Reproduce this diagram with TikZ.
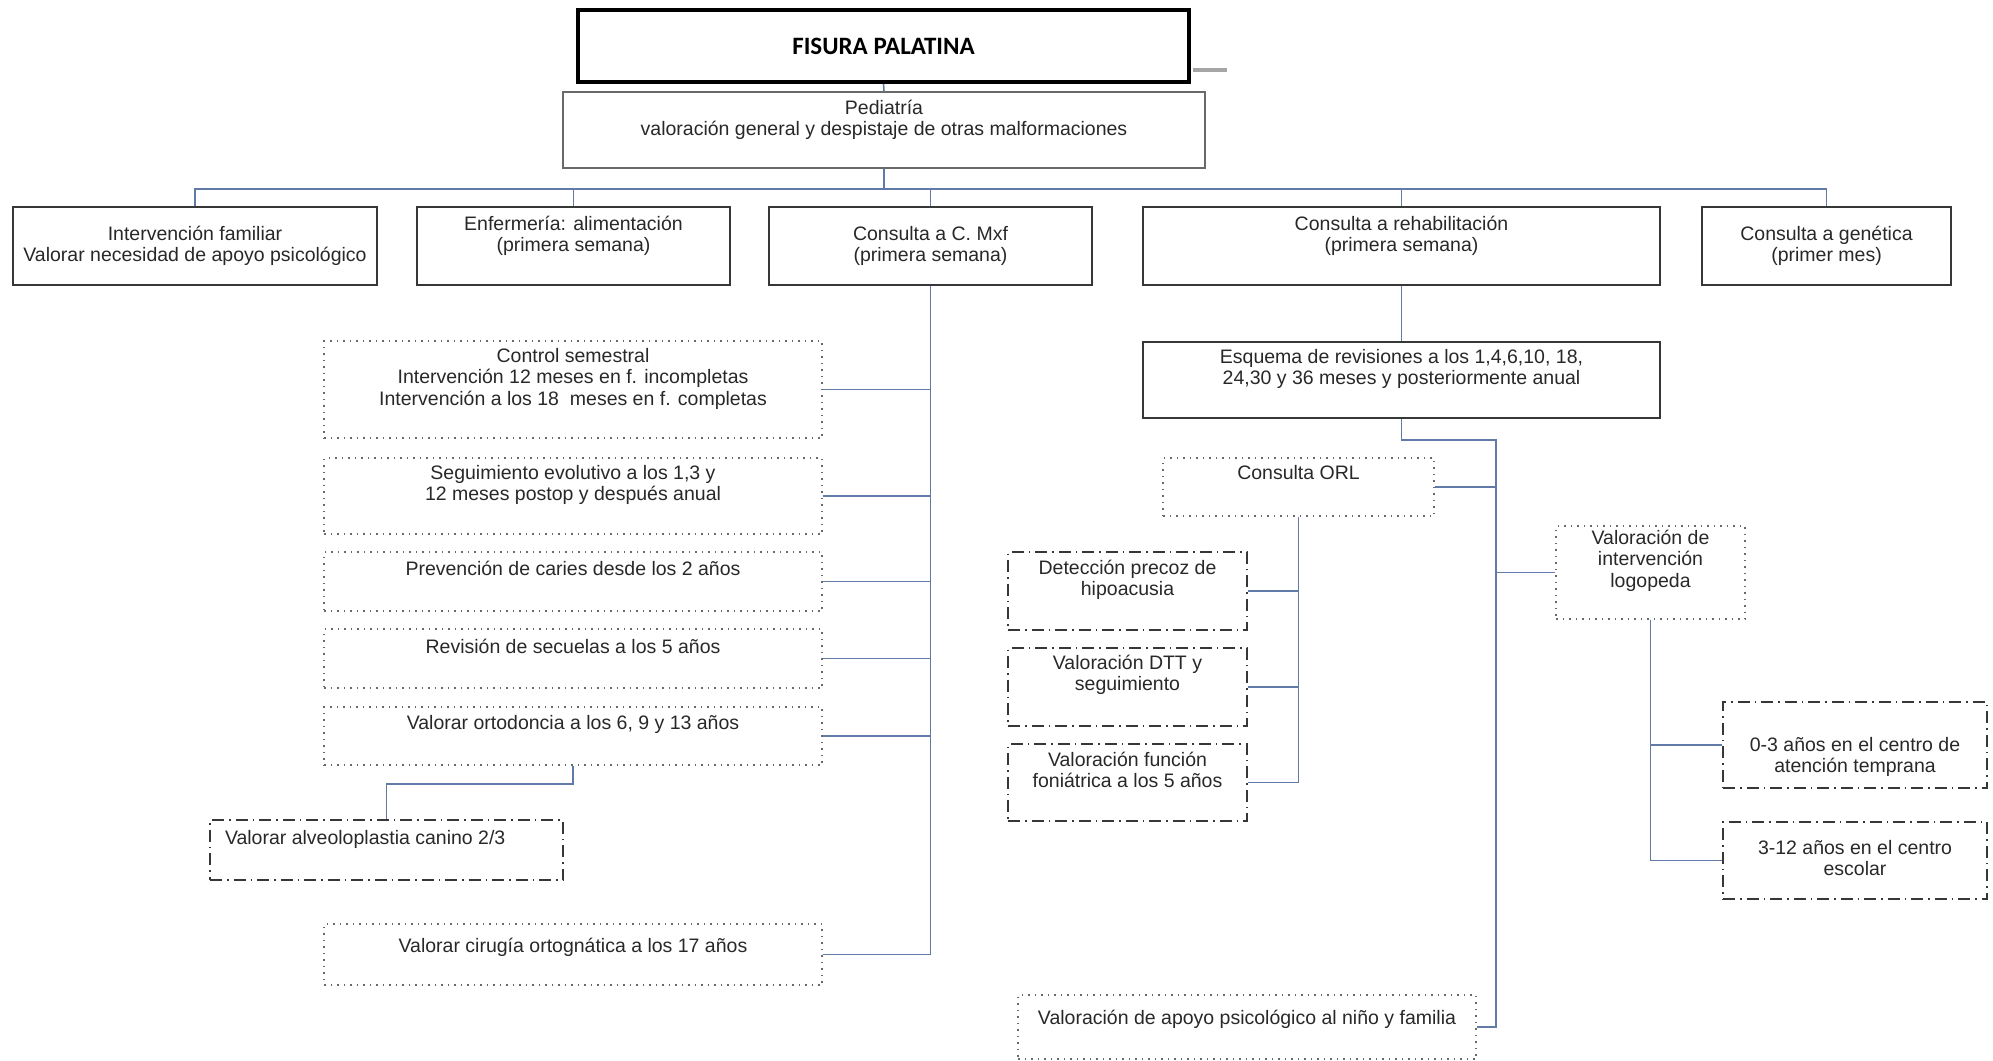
\documentclass[tikz,border=0pt]{standalone}
\usepackage{fontspec}
\setmainfont{Liberation Sans}
\newfontfamily\titlefont{Carlito}

\definecolor{borde}{RGB}{55,55,55}
\definecolor{punto}{RGB}{105,105,105}
\definecolor{linea}{RGB}{98,122,168}
\definecolor{texto}{RGB}{40,40,40}
\definecolor{gris}{RGB}{165,165,165}

\newcommand{\cajatxt}[4]{\parbox[c][#2pt][t]{#1pt}{\centering\vspace*{#3pt}\strut#4}}
\newcommand{\cajaizq}[4]{\parbox[c][#2pt][t]{#1pt}{\raggedright\vspace*{#3pt}\hspace*{15pt}\strut#4}}

\tikzset{
    solida/.style={draw=borde, line width=1.4pt, inner sep=0pt, text=texto},
    punteada/.style={draw=punto, line width=1.4pt, dash pattern=on 1.5pt off 5pt, inner sep=0pt, text=texto},
    rayapunto/.style={draw=borde, line width=1.4pt, dash pattern=on 12pt off 5pt on 1.5pt off 5pt, inner sep=0pt, text=texto},
    conector/.style={draw=linea, line width=1.6pt},
    titulo/.style={draw=black, line width=4pt, inner sep=0pt, font=\titlefont\bfseries\fontsize{25}{30}\selectfont}
}

\begin{document}
\begin{tikzpicture}[x=1pt, y=-1pt, font=\fontsize{19.5}{21.6}\selectfont]
                \useasboundingbox (0,0) rectangle (1993,1060);
                % cabecera
                \node[titulo, minimum width=611pt, minimum height=72pt] (tit) at (883.5,46) {FISURA PALATINA};
                \draw[gris, line width=4pt] (tit.east) ++(2,24) -- ++(34,0);
                \node[solida, draw=punto] (ped) at (884,130) {\cajatxt{642}{76}{7}{Pediatría\\valoración general y despistaje de otras malformaciones}};
                \draw[conector] (tit.south) -- (ped.north);
                % primer nivel
                \node[solida] (famil) at (195,246) {\cajatxt{364}{78}{18}{Intervención familiar\\Valorar necesidad de apoyo psicológico}};
                \node[solida] (enf) at (573.5,246) {\cajatxt{313}{78}{8}{Enfermería: alimentación\\(primera semana)}};
                \node[solida] (mxf) at (930.5,246) {\cajatxt{323}{78}{18}{Consulta a C. Mxf\\(primera semana)}};
                \node[solida] (rehab) at (1401.5,246) {\cajatxt{517}{78}{8}{Consulta a rehabilitación\\(primera semana)}};
                \node[solida] (gen) at (1826.5,246) {\cajatxt{249}{78}{18}{Consulta a genética\\(primer mes)}};
                \coordinate (bus) at (884,189);
                \draw[conector] (ped.south) -- (bus);
                \foreach \n in {famil,enf,mxf,rehab,gen}
                    \draw[conector] (bus) -| (\n.north);
                % rama maxilofacial
                \node[punteada] (ctrl) at (573,389.5) {\cajatxt{498}{97}{6}{Control semestral\\Intervención 12 meses en f. incompletas\\Intervención a los 18~ meses en f. completas}};
                \node[punteada] (segu) at (573,496) {\cajatxt{498}{76}{6}{Seguimiento evolutivo a los 1,3 y\\12 meses postop y después anual}};
                \node[punteada] (prev) at (573,581.5) {\cajatxt{498}{59}{8}{Prevención de caries desde los 2 años}};
                \node[punteada] (revi) at (573,658.5) {\cajatxt{498}{59}{9}{Revisión de secuelas a los 5 años}};
                \node[punteada] (orto) at (573,736) {\cajatxt{498}{58}{7}{Valorar ortodoncia a los 6, 9 y 13 años}};
                \node[rayapunto] (alveo) at (386.5,850) {\cajaizq{353}{60}{9}{Valorar alveoloplastia canino 2/3}};
                \node[punteada] (cir) at (573,954.5) {\cajatxt{498}{61}{13}{Valorar cirugía ortognática a los 17 años}};
                \draw[conector] (mxf.south) -- (mxf.south |- cir.east);
                \foreach \n in {ctrl,segu,prev,revi,orto,cir}
                    \draw[conector] (\n.east) -- (mxf.south |- \n.east);
                \draw[conector] (orto.south) -- ++(0,18) -| (alveo.north);
                % rama rehabilitacion
                \node[solida] (esq) at (1401.5,380) {\cajatxt{517}{76}{6}{Esquema de revisiones a los 1,4,6,10, 18,\\24,30 y 36 meses y posteriormente anual}};
                \node[punteada] (orl) at (1298.5,487) {\cajatxt{271}{58}{6}{Consulta ORL}};
                \node[punteada] (logo) at (1650.5,572.5) {\cajatxt{189}{93}{3}{Valoración de\\intervención\\logopeda}};
                \node[rayapunto] (hipo) at (1127.5,591) {\cajatxt{239}{78}{7}{Detección precoz de\\hipoacusia}};
                \node[rayapunto] (dtt) at (1127.5,687) {\cajatxt{239}{78}{6}{Valoración DTT y\\seguimiento}};
                \node[rayapunto] (fon) at (1127.5,782.5) {\cajatxt{239}{77}{7}{Valoración función\\foniátrica a los 5 años}};
                \node[rayapunto] (temp) at (1855,745) {\cajatxt{264}{86}{34}{0-3 años en el centro de\\atención temprana}};
                \node[rayapunto] (esc) at (1855,860.5) {\cajatxt{264}{77}{17}{3-12 años en el centro\\escolar}};
                \node[punteada] (apoyo) at (1247,1027) {\cajatxt{458}{64}{14}{Valoración de apoyo psicológico al niño y familia}};
                \coordinate (eje) at (1496,440);
                \draw[conector] (rehab.south) -- (esq.north);
                \draw[conector] (esq.south) |- (eje) -- (eje |- apoyo.east) -- (apoyo.east);
                \draw[conector] (orl.east) -- (eje |- orl.east);
                \draw[conector] (logo.west) -- (eje |- logo.west);
                \draw[conector] (orl.south) -- (orl.south |- fon.east);
                \foreach \n in {hipo,dtt,fon}
                    \draw[conector] (\n.east) -- (orl.south |- \n.east);
                \draw[conector] (logo.south) -- (logo.south |- esc.west);
                \foreach \n in {temp,esc}
                    \draw[conector] (\n.west) -- (logo.south |- \n.west);
\end{tikzpicture}
\end{document}
